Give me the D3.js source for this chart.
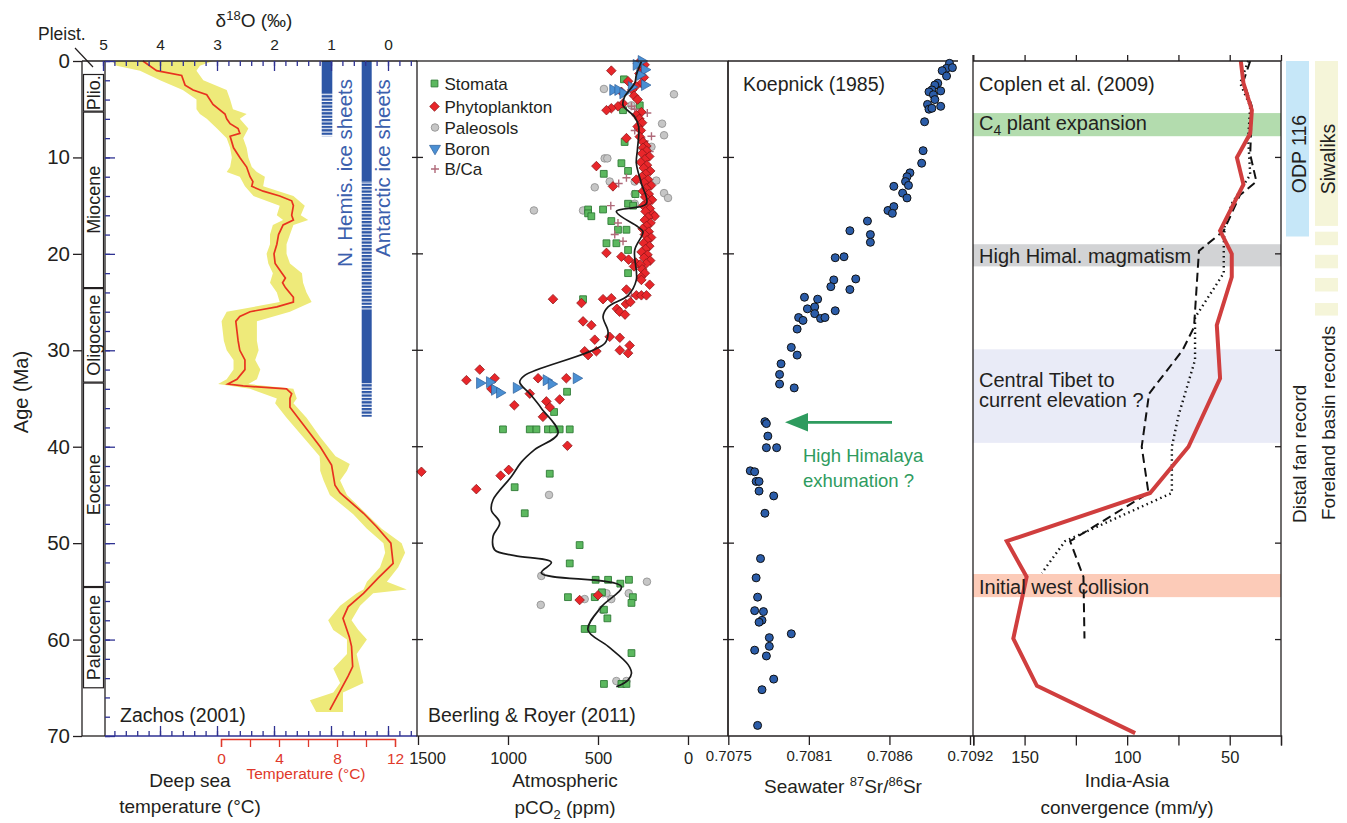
<!DOCTYPE html>
<html>
<head>
<meta charset="utf-8">
<script src="https://cdn.jsdelivr.net/npm/d3@7"></script>
<style>
  body { margin: 0; background: #fff; }
  svg { font-family: "Liberation Sans", Arial, Helvetica, sans-serif; }
</style>
</head>
<body>
<svg id="chart" width="1347" height="823"></svg>
<script>

// ---- age axis / tick labels
const ageTicks = [0, 10, 20, 30, 40, 50, 60, 70];
const d18Ticks = [5, 4, 3, 2, 1, 0];
const tempTicks = [0, 2, 4, 6, 8, 10, 12];
const tempLabels = [0, 4, 8, 12];
const co2Ticks = [1500, 1000, 500, 0];
const srTicks = [0.7075, 0.70805, 0.7086, 0.70915];
const srTickLabels = ["0.7075", "0.7081", "0.7086", "0.7092"];
const convTicks = [175, 150, 125, 100, 75, 50, 25];
const convLabels = [150, 100, 50];

// ---- Zachos (2001) deep sea d18O
const d18Age = [0, 1, 1.5, 2.5, 3, 3.5, 4.5, 5.5, 6, 6.5, 7, 7.5, 7.8, 9, 10, 11, 12, 12.5, 13, 13.5, 14, 14.5, 15, 16, 16.5, 17, 18, 19, 20, 21, 22, 22.5, 23, 23.5, 24.5, 25, 25.5, 26, 26.5, 27, 28, 29, 30, 31, 32, 33, 33.5, 33.7, 34, 34.5, 35, 35.9, 38.6, 40, 41.9, 44, 44.8, 46.9, 48.3, 50, 52.1, 53.6, 55.2, 56.6, 57.8, 59, 59.7, 60.7, 62.8, 63.8, 67.3];
const d18Value = [4.3, 4.06, 3.62, 3.56, 3.42, 3.18, 3.07, 2.86, 2.83, 2.77, 2.63, 2.6, 2.77, 2.71, 2.6, 2.48, 2.42, 2.37, 2.39, 2.19, 1.9, 1.69, 1.66, 1.69, 1.66, 1.84, 1.92, 1.95, 2.0, 1.98, 1.86, 1.8, 1.85, 1.8, 1.66, 1.66, 1.95, 2.42, 2.6, 2.67, 2.65, 2.63, 2.6, 2.51, 2.51, 2.65, 2.81, 2.54, 1.78, 1.69, 1.72, 1.72, 1.37, 1.19, 0.99, 0.93, 0.84, 0.43, 0.2, -0.05, -0.09, 0.17, 0.43, 0.7, 0.79, 0.72, 0.68, 0.64, 0.62, 0.7, 1.02];

const envAge = [0, 0.5, 1, 2, 3, 4, 5, 5.5, 6, 7, 8, 9, 10, 11, 11.5, 12, 13, 14, 15, 16, 16.5, 17, 18, 19, 20, 21, 22, 23, 24, 25, 26, 27, 29, 30, 31, 32, 33, 33.5, 34, 35, 35.5, 37, 39, 41, 41.8, 42.5, 43.5, 45, 47, 48.5, 50, 51, 52.5, 54, 54.8, 55.2, 56.5, 58, 59, 60, 61.5, 63, 64.5, 65.5, 66.3, 67.5];
const envHigh = [4.85, 4.76, 4.35, 4.0, 3.6, 3.36, 3.36, 3.3, 3.18, 3.0, 2.83, 2.77, 2.74, 2.77, 2.83, 2.6, 2.51, 2.36, 1.9, 1.95, 1.84, 2.02, 2.07, 2.07, 2.13, 2.1, 2.02, 2.07, 1.95, 1.9, 2.83, 2.92, 2.88, 2.83, 2.71, 2.71, 2.83, 2.98, 2.42, 1.95, 1.98, 1.78, 1.49, 1.2, 1.19, 1.19, 1.13, 1.02, 0.61, 0.37, 0.08, 0.05, 0.14, 0.37, 0.43, 0.55, 0.84, 1.05, 0.96, 0.72, 0.72, 0.96, 0.84, 0.96, 1.37, 1.26];
const envLow = [3.07, 3.3, 3.36, 3.24, 2.83, 2.77, 2.72, 2.48, 2.6, 2.45, 2.54, 2.48, 2.45, 2.39, 2.3, 2.16, 2.19, 1.66, 1.46, 1.53, 1.4, 1.66, 1.72, 1.78, 1.78, 1.72, 1.51, 1.49, 1.43, 1.34, 1.72, 2.3, 2.3, 2.27, 2.33, 2.24, 2.3, 2.45, 1.66, 1.6, 1.66, 1.43, 1.19, 0.92, 0.67, 0.72, 0.84, 0.72, 0.37, 0.11, -0.24, -0.3, -0.18, 0.02, -0.33, 0.26, 0.49, 0.64, 0.52, 0.37, 0.55, 0.49, 0.43, 0.79, 0.79, 0.79];

const epochNames = ["Plio.", "Miocene", "Oligocene", "Eocene", "Paleocene"];
const epochTop = [1.4, 5.3, 23.6, 33.4, 54.6];
const epochBase = [5.2, 23.5, 33.3, 54.5, 65];

const iceNH = [[0, 3.35, "full"], [3.35, 7.8, "partial"]];
const iceAA = [[0, 12.5, "full"], [12.5, 25.8, "partial"], [25.8, 33.4, "full"], [33.4, 36.9, "partial"]];

// ---- Beerling & Royer (2011) pCO2, [age Ma, ppm]
const stomata = [[1.9, 356], [4.6, 268], [5.1, 361], [8.4, 352], [10.6, 370], [11.4, 333], [11.7, 468], [13.8, 292], [14.8, 333], [15.0, 305], [15.4, 555], [15.8, 555], [16.1, 537], [15.4, 472], [16.6, 426], [17.5, 389], [17.5, 342], [18.9, 453], [18.9, 398], [19.6, 333], [22.0, 333], [24.7, 583], [34.3, 672], [36.4, 744], [38.2, 1028], [38.2, 879], [38.2, 842], [38.2, 778], [38.2, 750], [38.2, 713], [38.2, 657], [42.8, 768], [44.2, 963], [46.9, 907], [50.2, 602], [52.1, 657], [53.8, 513], [53.8, 444], [54.2, 376], [53.8, 328], [55.1, 478], [55.6, 667], [55.6, 518], [55.6, 306], [56.2, 314], [56.9, 467], [57.8, 448], [58.9, 574], [58.9, 531], [61.4, 314], [64.6, 467], [64.6, 370], [64.6, 342]];
const phyto = [[0.25, 278], [0.4, 241], [0.6, 262], [0.9, 250], [1.0, 426], [1.3, 270], [1.7, 245], [2.1, 333], [2.3, 259], [2.6, 290], [3.0, 310], [3.2, 370], [3.6, 300], [4.0, 280], [4.4, 361], [4.7, 389], [4.9, 426], [5.1, 453], [5.3, 259], [5.6, 287], [6.0, 270], [6.4, 255], [6.8, 280], [7.2, 262], [7.85, 268], [8.0, 342], [8.4, 250], [8.8, 232],
  [9.0, 250], [9.3, 230], [9.6, 255], [9.9, 215], [10.2, 240], [10.5, 262], [10.8, 228], [10.9, 509], [11.1, 246], [11.4, 210], [11.7, 235], [12.0, 256], [12.3, 287], [12.3, 222], [12.6, 244], [12.9, 205], [13.0, 417], [13.2, 232], [13.5, 250], [13.8, 218], [14.1, 238], [14.4, 200], [14.7, 226], [15.0, 248], [15.3, 212], [15.6, 236], [15.9, 195], [16.1, 185], [16.2, 222], [16.5, 240], [16.8, 208], [17.1, 230], [17.4, 252], [17.7, 218], [18.0, 240], [18.3, 205], [18.6, 228], [18.9, 246], [19.2, 215], [19.5, 236], [19.9, 453], [19.8, 258], [20.1, 225], [20.3, 370], [20.4, 244], [20.6, 330], [20.7, 210], [20.9, 290], [21.0, 232], [21.1, 265], [21.3, 300], [21.6, 255], [22.0, 240], [22.4, 262], [22.7, 259], [23.2, 213], [23.7, 342], [24.3, 287], [24.3, 259], [24.3, 231],
  [24.7, 750], [25.1, 592], [24.7, 472], [24.6, 426], [25.2, 345], [25.0, 320], [25.7, 395], [26.0, 380], [26.3, 350], [27.0, 583], [27.4, 537], [28.6, 435], [28.9, 518], [28.7, 379], [30.1, 574], [30.5, 555], [30.1, 509], [30.0, 379], [30.3, 333], [29.5, 324],
  [32.0, 1157], [33.1, 1231], [32.9, 1074], [34.0, 1092], [32.9, 833], [32.9, 676], [34.5, 879], [35.7, 965], [35.3, 787], [35.1, 713], [35.9, 768], [36.9, 806], [39.9, 670], [42.6, 1481], [43.0, 1041], [42.4, 996], [44.4, 1176], [55.4, 500], [55.9, 602]];
const paleosols = [[2.9, 467], [3.45, 78], [4.6, 314], [6.5, 144], [7.7, 133], [8.9, 203], [10.1, 463], [10.1, 448], [13.1, 518], [12.5, 435], [12.5, 296], [12.4, 176], [13.8, 296], [13.7, 133], [14.2, 111], [15.5, 856], [15.5, 583], [14.8, 296], [45.0, 772], [53.4, 815], [54.0, 228], [55.2, 472], [55.2, 453], [55.8, 574], [55.8, 426], [55.2, 329], [56.4, 818], [56.9, 476], [64.3, 398], [64.3, 342]];
const boron = [[0, 259], [0.4, 287], [0.9, 241], [1.45, 268], [2.5, 241], [2.7, 314], [3.0, 417], [3.0, 389], [3.35, 361], [33.4, 1157], [33.3, 1102], [34.1, 1074], [34.4, 1046], [33.9, 953], [33.1, 787], [33.5, 759], [32.9, 620]];
const bca = [[4.7, 314], [5.0, 296], [5.4, 226], [7.2, 296], [7.8, 203], [8.3, 241], [8.9, 226], [9.4, 213], [12.1, 342], [12.7, 385], [15.0, 429], [16.8, 389], [18.0, 407], [18.7, 361], [24.4, 314]];

const loessAge = [0.07, 1.45, 2.3, 3.7, 4.6, 5.8, 6.8, 9.2, 10.6, 12.7, 14.8, 15.6, 17.2, 17.7, 19.6, 22.7, 24.3, 25.5, 26.5, 28.1, 29.3, 32.6, 33.3, 34.5, 36.0, 38.6, 40.3, 41.6, 43.1, 45.5, 46.6, 47.9, 49.3, 50.7, 51.3, 52.0, 53.1, 54.5, 56.6, 59.0, 60.7, 62.6, 63.5, 64.2, 64.9];
const loessPpm = [259, 287, 296, 352, 361, 296, 274, 281, 287, 259, 231, 398, 278, 250, 296, 287, 333, 444, 472, 444, 463, 907, 935, 879, 815, 722, 852, 926, 981, 1083, 1092, 1046, 1083, 1074, 963, 759, 815, 370, 481, 556, 444, 333, 314, 333, 398];

// ---- Koepnick (1985) seawater 87Sr/86Sr, [age Ma, ratio]
const srData = [[0.24, 0.70901], [0.76, 0.70899], [0.69, 0.70903], [1.0, 0.70896], [1.56, 0.70899], [2.3, 0.70893], [2.5, 0.70891], [3.0, 0.70889], [3.2, 0.70887], [3.5, 0.7089], [3.1, 0.70895], [4.0, 0.70891], [4.5, 0.70886], [4.7, 0.70895], [5.0, 0.70887], [4.9, 0.70889], [6.3, 0.70884], [9.3, 0.70883], [10.6, 0.70882], [11.6, 0.70874], [12.0, 0.70872], [12.5, 0.70871], [12.9, 0.70873], [13.0, 0.70863], [13.7, 0.70869], [14.2, 0.70872], [15.5, 0.70859], [15.1, 0.70863], [15.8, 0.70862], [16.6, 0.70845], [17.6, 0.70833], [18.0, 0.70847], [18.8, 0.70847], [20.4, 0.70823], [20.3, 0.70829], [22.7, 0.70822], [23.4, 0.7082], [22.6, 0.70837], [23.7, 0.70833], [24.5, 0.70802], [24.7, 0.70811], [25.7, 0.70804], [25.5, 0.70809], [26.2, 0.70809], [26.7, 0.70813], [26.6, 0.70816], [25.9, 0.70823], [26.6, 0.70798], [26.9, 0.70801], [27.8, 0.70797], [29.7, 0.70793], [30.5, 0.70797], [31.4, 0.70786], [32.5, 0.70785], [33.5, 0.70785], [33.9, 0.70795],
  [37.4, 0.70775], [37.6, 0.70776], [38.9, 0.70777], [40.1, 0.70776], [40.1, 0.70783], [42.5, 0.70765], [42.6, 0.70768], [43.6, 0.70769], [43.6, 0.70771], [44.6, 0.70771], [45.1, 0.70781], [46.9, 0.70775], [51.6, 0.70772], [53.6, 0.70769], [55.6, 0.7077], [57.0, 0.70768], [57.1, 0.70774], [58.0, 0.70773], [58.2, 0.70771], [59.4, 0.70793], [59.8, 0.70778], [60.7, 0.70778], [61.1, 0.70768], [61.7, 0.70776], [64.1, 0.70781], [65.2, 0.70773], [68.9, 0.7077]];

// ---- India-Asia convergence (mm/y)
const convAge = [0, 2.3, 5.1, 7.5, 10, 12.8, 17.6, 20, 22.4, 27.4, 32.9, 40, 44.8, 49.8, 53.5, 59.9, 64.8, 69.7];
const convRate = [44.6, 43.3, 39.2, 40, 46.5, 43.3, 54.7, 49, 49, 56.3, 54.7, 70.1, 88.8, 158.7, 149, 155.5, 144, 96.1];
const dashAge = [0, 2.1, 4.7, 9.7, 12.5, 13.9, 17.6, 19.7, 27.6, 30, 34.5, 40, 44.8, 49.8, 53.5, 59.9];
const dashRate = [40, 43.3, 39.2, 40, 37, 45, 52.9, 65, 67.4, 73, 89.3, 92.9, 89.6, 127.8, 121.3, 120.8];
const dotAge = [0, 2.3, 4.7, 8, 11.8, 14.8, 17.2, 19, 22, 26.6, 31, 36.8, 40, 44.8, 49.8, 53.1];
const dotRate = [41, 44.9, 40, 41, 40, 49, 52.5, 52.9, 52.9, 66.9, 66.9, 75, 78.2, 78.2, 130.3, 141.6];

const bandLabels = ["C4 plant expansion", "High Himal. magmatism", "Central Tibet to|current elevation ?", "Initial west collision"];
const bandTop = [5.4, 19.0, 29.9, 53.2];
const bandBase = [7.8, 21.3, 39.6, 55.6];

const odpRange = [0, 18.2];
const siwaliks = [[0, 17.1], [17.7, 19.1], [20.1, 21.5], [22.5, 23.9], [25.1, 26.4]];


const ink = "#231f20";
const navy = "#2e3192";
const svg = d3.select("#chart");

const yAge = d3.scaleLinear().domain([0, 70]).range([61, 736]);
const xD18 = d3.scaleLinear().domain([5, -0.5]).range([103, 416.5]);
const xTemp = d3.scaleLinear().domain([0, 12]).range([221, 395]);
const xCO2 = d3.scaleLinear().domain([1500, 0]).range([418, 688]);
const xSr = d3.scaleLinear().domain([0.7075, 0.70915]).range([728.3, 970]);
const xConv = d3.scaleLinear().domain([175, 25]).range([973.3, 1281]);

const vis = {

    util : {

        line : function(g, x1, y1, x2, y2, color, w) {
            return g.append("line")
              .attr("x1", x1).attr("y1", y1).attr("x2", x2).attr("y2", y2)
              .attr("stroke", color || ink)
              .attr("stroke-width", w || 1.3);
        },

        text : function(g, x, y, str, size, opts) {
            opts = opts || {};
            return g.append("text")
              .attr("x", x).attr("y", y)
              .attr("font-size", size)
              .attr("fill", opts.fill || ink)
              .attr("text-anchor", opts.anchor || "start")
              .text(str);
        },

        vtext : function(g, x, y, str, size, opts) {
            opts = opts || {};
            return g.append("text")
              .attr("transform", `translate(${x},${y}) rotate(-90)`)
              .attr("font-size", size)
              .attr("fill", opts.fill || ink)
              .attr("text-anchor", opts.anchor || "middle")
              .text(str);
        },

        // small age ticks on a shared panel border
        borderTicks : function(x, left, right) {
            svg.append("g").selectAll("line")
              .data(ageTicks.slice(1, -1))
              .join("line")
              .attr("x1", x - left).attr("x2", x + right)
              .attr("y1", d => yAge(d)).attr("y2", d => yAge(d))
              .attr("stroke", ink).attr("stroke-width", 1.3);
        },

        styleAxis : function(g, color, size) {
            g.select(".domain").remove();
            g.selectAll(".tick line").attr("stroke", color).attr("stroke-width", 1.3);
            g.selectAll(".tick text").attr("fill", color).attr("font-size", size)
              .attr("font-family", "Liberation Sans, Arial, sans-serif");
        }

    },

    zachos : {

        draw : function() {

            const g = svg.append("g");
            const u = vis.util;

            const env = envAge.map((a, i) => ({ a : a, hi : envHigh[i], lo : envLow[i] }));
            g.append("path")
              .datum(env)
              .attr("d", d3.area().y(d => yAge(d.a)).x0(d => xD18(d.hi)).x1(d => xD18(d.lo)))
              .attr("fill", "#eeea7a");

            g.append("path")
              .datum(d18Age.map((a, i) => [a, d18Value[i]]))
              .attr("d", d3.line().x(d => xD18(d[1])).y(d => yAge(d[0])))
              .attr("fill", "none")
              .attr("stroke", "#e8321f")
              .attr("stroke-width", 1.7);

            // ice sheets
            const defs = svg.append("defs");
            defs.append("pattern")
              .attr("id", "icestripe")
              .attr("width", 20).attr("height", 3.4)
              .attr("patternUnits", "userSpaceOnUse")
              .append("rect").attr("width", 20).attr("height", 2.3).attr("fill", "#2d56a5");

            const bars = [[iceNH, 321.7, 332.3], [iceAA, 361.7, 371.7]];
            bars.forEach(b => {
                g.append("g").selectAll("rect")
                  .data(b[0])
                  .join("rect")
                  .attr("x", b[1]).attr("width", b[2] - b[1])
                  .attr("y", d => yAge(d[0])).attr("height", d => yAge(d[1]) - yAge(d[0]))
                  .attr("fill", d => d[2] === "full" ? "#2d56a5" : "url(#icestripe)");
            });
            u.vtext(g, 352, 173, "N. Hemis. ice sheets", 20.5, { fill : "#3c60ad" });
            u.vtext(g, 390, 168, "Antarctic ice sheets", 20.5, { fill : "#3c60ad" });

            // epoch column
            g.append("g").selectAll("rect")
              .data(epochNames)
              .join("rect")
              .attr("x", 83.5).attr("width", 20)
              .attr("y", (d, i) => yAge(epochTop[i]))
              .attr("height", (d, i) => yAge(epochBase[i]) - yAge(epochTop[i]))
              .attr("fill", "none").attr("stroke", ink).attr("stroke-width", 1.2);
            g.append("g").selectAll("text")
              .data(epochNames)
              .join("text")
              .attr("transform", (d, i) => `translate(100,${yAge((epochTop[i] + epochBase[i]) / 2)}) rotate(-90)`)
              .attr("text-anchor", "middle")
              .attr("font-size", 18)
              .attr("fill", ink)
              .text(d => d);

            u.line(g, 82, 61, 82, 736);
            u.line(g, 105, 61, 105, 736);
            u.line(g, 82, 61, 417, 61);
            u.line(g, 82, 736, 105, 736);
            u.line(g, 105, 736, 417, 736, navy);

            u.text(g, 38, 40, "Pleist.", 17.5);
            u.line(g, 75, 48, 93, 67, ink, 1.2);

            // left age axis
            const ax = g.append("g").attr("transform", "translate(82,0)")
              .call(d3.axisLeft(yAge).tickValues(ageTicks).tickSize(9).tickPadding(3));
            vis.util.styleAxis(ax, ink, 20.5);

            // blue age ticks
            const minorAge = d3.range(0, 71, 2);
            const am = g.append("g").attr("transform", "translate(105,0)")
              .call(d3.axisRight(yAge).tickValues(minorAge).tickSize(5).tickFormat(""));
            vis.util.styleAxis(am, navy, 10);
            const aM = g.append("g").attr("transform", "translate(105,0)")
              .call(d3.axisRight(yAge).tickValues(ageTicks).tickSize(10).tickFormat(""));
            vis.util.styleAxis(aM, navy, 10);

            // d18O top and bottom
            const minorD = d3.range(-4, 51, 2).map(v => v / 10);
            const tm = g.append("g").attr("transform", "translate(0,61)")
              .call(d3.axisTop(xD18).tickValues(minorD).tickSizeInner(-5).tickSizeOuter(0).tickFormat(""));
            vis.util.styleAxis(tm, navy, 10);
            const tM = g.append("g").attr("transform", "translate(0,61)")
              .call(d3.axisTop(xD18).tickValues(d18Ticks).tickSizeInner(-10).tickSizeOuter(0).tickPadding(11)
                .tickFormat(d => String(d)));
            vis.util.styleAxis(tM, navy, 15.5);
            tM.selectAll(".tick text").attr("fill", ink);

            const bm = g.append("g").attr("transform", "translate(0,736)")
              .call(d3.axisBottom(xD18).tickValues(minorD.filter(v => v < 4.9)).tickSizeInner(-5).tickSizeOuter(0).tickFormat(""));
            vis.util.styleAxis(bm, navy, 10);
            const bM = g.append("g").attr("transform", "translate(0,736)")
              .call(d3.axisBottom(xD18).tickValues([4, 3, 2, 1, 0]).tickSizeInner(-10).tickSizeOuter(0).tickFormat(""));
            vis.util.styleAxis(bM, navy, 10);

            const t1 = g.append("text").attr("x", 254).attr("y", 27).attr("text-anchor", "middle")
              .attr("font-size", 19).attr("fill", ink);
            t1.append("tspan").text("δ");
            t1.append("tspan").attr("dy", -7).attr("font-size", 13).text("18");
            t1.append("tspan").attr("dy", 7).text("O (‰)");

            // temperature
            const red = "#e0392b";
            const tx = g.append("g").attr("transform", "translate(0,739)")
              .call(d3.axisBottom(xTemp).tickValues(tempTicks).tickSize(8).tickPadding(6)
                .tickFormat(d => tempLabels.includes(d) ? String(d) : ""));
            tx.select(".domain").attr("stroke", red).attr("stroke-width", 1.3);
            tx.selectAll(".tick line").attr("stroke", red).attr("stroke-width", 1.3);
            tx.selectAll(".tick text").attr("fill", red).attr("font-size", 15.5)
              .attr("font-family", "Liberation Sans, Arial, sans-serif");
            u.text(g, 306, 779, "Temperature (°C)", 15.5, { fill : red, anchor : "middle" });

            u.text(g, 190, 787, "Deep sea", 19, { anchor : "middle" });
            u.text(g, 190, 813, "temperature (°C)", 19, { anchor : "middle" });
            u.text(g, 120, 722, "Zachos (2001)", 19.5);
            u.vtext(g, 28, 392, "Age (Ma)", 20);

        }

    },

    co2 : {

        draw : function() {

            const g = svg.append("g");
            const u = vis.util;
            const px = d => xCO2(d[1]);
            const py = d => yAge(d[0]);

            g.append("g").selectAll("circle")
              .data(paleosols).join("circle")
              .attr("cx", px).attr("cy", py).attr("r", 3.8)
              .attr("fill", "#c6c6c6").attr("stroke", "#8c8c8c").attr("stroke-width", 0.8);

            g.append("g").selectAll("path")
              .data(stomata).join("path")
              .attr("transform", d => `translate(${px(d)},${py(d)})`)
              .attr("d", d3.symbol(d3.symbolSquare, 46))
              .attr("fill", "#5cb85f").attr("stroke", "#2f7a35").attr("stroke-width", 0.9);

            g.append("g").selectAll("path")
              .data(bca).join("path")
              .attr("transform", d => `translate(${px(d)},${py(d)})`)
              .attr("d", "M-4,0H4M0,-4V4")
              .attr("stroke", "#b06a7a").attr("stroke-width", 1.4);

            g.append("g").selectAll("path")
              .data(phyto).join("path")
              .attr("transform", d => `translate(${px(d)},${py(d)}) rotate(45)`)
              .attr("d", d3.symbol(d3.symbolSquare, 46))
              .attr("fill", "#e8262a").attr("stroke", "#8a1518").attr("stroke-width", 0.7);

            g.append("g").selectAll("path")
              .data(boron).join("path")
              .attr("transform", d => `translate(${px(d)},${py(d)}) rotate(90)`)
              .attr("d", d3.symbol(d3.symbolTriangle, 52))
              .attr("fill", "#4a8fd3").attr("stroke", "#2c5f99").attr("stroke-width", 0.7);

            g.append("path")
              .datum(loessAge.map((a, i) => [a, loessPpm[i]]))
              .attr("d", d3.line().x(px).y(py).curve(d3.curveCatmullRom.alpha(0.5)))
              .attr("fill", "none").attr("stroke", "#1a1a1a").attr("stroke-width", 1.7);

            // legend
            const names = ["Stomata", "Phytoplankton", "Paleosols", "Boron", "B/Ca"];
            const ly = [83.5, 106.5, 127.5, 148.5, 169];
            const lg = g.append("g");
            lg.append("path").attr("transform", `translate(434.5,${ly[0]})`).attr("d", d3.symbol(d3.symbolSquare, 46))
              .attr("fill", "#5cb85f").attr("stroke", "#2f7a35").attr("stroke-width", 0.9);
            lg.append("path").attr("transform", `translate(434.5,${ly[1]}) rotate(45)`).attr("d", d3.symbol(d3.symbolSquare, 46))
              .attr("fill", "#e8262a").attr("stroke", "#8a1518").attr("stroke-width", 0.7);
            lg.append("circle").attr("cx", 435).attr("cy", ly[2]).attr("r", 3.8)
              .attr("fill", "#c6c6c6").attr("stroke", "#8c8c8c").attr("stroke-width", 0.8);
            lg.append("path").attr("transform", `translate(435,${ly[3]}) rotate(180)`).attr("d", d3.symbol(d3.symbolTriangle, 52))
              .attr("fill", "#4a8fd3").attr("stroke", "#2c5f99").attr("stroke-width", 0.7);
            lg.append("path").attr("transform", `translate(435,${ly[4]})`).attr("d", "M-4,0H4M0,-4V4")
              .attr("stroke", "#b06a7a").attr("stroke-width", 1.4);
            names.forEach((n, i) => u.text(lg, 444.5, ly[i] + 6, n, 17));

            g.append("rect").attr("x", 417).attr("y", 61).attr("width", 311).attr("height", 675)
              .attr("fill", "none").attr("stroke", ink).attr("stroke-width", 1.3);

            const ax = g.append("g").attr("transform", "translate(0,736)")
              .call(d3.axisBottom(xCO2).tickValues(co2Ticks).tickSize(9).tickPadding(7)
                .tickFormat(d => String(d)));
            vis.util.styleAxis(ax, ink, 16.5);
            ax.selectAll(".tick text").filter(d => d === 1500).attr("x", 9);

            u.text(g, 428, 722, "Beerling & Royer (2011)", 19.5);
            u.text(g, 565, 787, "Atmospheric", 19, { anchor : "middle" });
            const t = g.append("text").attr("x", 565).attr("y", 814).attr("text-anchor", "middle")
              .attr("font-size", 19).attr("fill", ink);
            t.append("tspan").text("pCO");
            t.append("tspan").attr("dy", 5).attr("font-size", 13).text("2");
            t.append("tspan").attr("dy", -5).text(" (ppm)");

        }

    },

    sr : {

        draw : function() {

            const g = svg.append("g");
            const u = vis.util;

            u.line(g, 728, 61, 958, 61);
            u.line(g, 728, 61, 728, 736);
            u.line(g, 728, 736, 973, 736);

            g.append("g").selectAll("circle")
              .data(srData).join("circle")
              .attr("cx", d => xSr(d[1])).attr("cy", d => yAge(d[0])).attr("r", 4)
              .attr("fill", "#2b5ca8").attr("stroke", "#101010").attr("stroke-width", 1);

            const ax = g.append("g").attr("transform", "translate(0,736)")
              .call(d3.axisBottom(xSr).tickValues(srTicks).tickSize(9).tickPadding(5)
                .tickFormat((d, i) => srTickLabels[i]));
            vis.util.styleAxis(ax, ink, 15);

            const green = "#2e9b5e";
            u.line(g, 892, 422.3, 802, 422.3, green, 2.7);
            g.append("path")
              .attr("d", d3.line()([[785, 422.3], [808, 413], [808, 431.6]]))
              .attr("fill", green);
            u.text(g, 803, 462, "High Himalaya", 18.5, { fill : green });
            u.text(g, 803, 487, "exhumation ?", 18.5, { fill : green });

            u.text(g, 743, 91, "Koepnick (1985)", 19.5);

            const t = g.append("text").attr("x", 843).attr("y", 793).attr("text-anchor", "middle")
              .attr("font-size", 19).attr("fill", ink);
            t.append("tspan").text("Seawater ");
            t.append("tspan").attr("dy", -7).attr("font-size", 13).text("87");
            t.append("tspan").attr("dy", 7).text("Sr/");
            t.append("tspan").attr("dy", -7).attr("font-size", 13).text("86");
            t.append("tspan").attr("dy", 7).text("Sr");

        }

    },

    convergence : {

        draw : function() {

            const g = svg.append("g");
            const u = vis.util;
            const bandColors = ["#b3dcae", "#d2d3d5", "#e9ebf7", "#fccbb8"];

            g.append("g").selectAll("rect")
              .data(bandLabels).join("rect")
              .attr("x", 973).attr("width", 308)
              .attr("y", (d, i) => yAge(bandTop[i]))
              .attr("height", (d, i) => yAge(bandBase[i]) - yAge(bandTop[i]))
              .attr("fill", (d, i) => bandColors[i]);

            const line = (ages, rates) => d3.line()(ages.map((a, i) => [xConv(rates[i]), yAge(a)]));
            g.append("path").attr("d", line(dotAge, dotRate))
              .attr("fill", "none").attr("stroke", "#111").attr("stroke-width", 2.4)
              .attr("stroke-dasharray", "1.5,3.5");
            g.append("path").attr("d", line(dashAge, dashRate))
              .attr("fill", "none").attr("stroke", "#111").attr("stroke-width", 2)
              .attr("stroke-dasharray", "9,5");
            g.append("path").attr("d", line(convAge, convRate))
              .attr("fill", "none").attr("stroke", "#d03e3e").attr("stroke-width", 4)
              .attr("stroke-linejoin", "miter");

            u.text(g, 979, 91, "Coplen et al. (2009)", 20);
            const c4 = g.append("text").attr("x", 979).attr("y", 130).attr("font-size", 20).attr("fill", ink);
            c4.append("tspan").text("C");
            c4.append("tspan").attr("dy", 5).attr("font-size", 14).text("4");
            c4.append("tspan").attr("dy", -5).text(" plant expansion");
            u.text(g, 979, 263, bandLabels[1], 20);
            const ct = bandLabels[2].split("|");
            u.text(g, 979, 387, ct[0], 20);
            u.text(g, 979, 407, ct[1], 20);
            u.text(g, 979, 594, bandLabels[3], 20);

            // frame
            u.line(g, 973, 55, 973, 736);
            u.line(g, 973, 61, 1281, 61);
            u.line(g, 1281, 61, 1281, 735.5);
            g.append("g").selectAll("line")
              .data(ageTicks.slice(1, -1)).join("line")
              .attr("x1", 1275).attr("x2", 1281)
              .attr("y1", d => yAge(d)).attr("y2", d => yAge(d))
              .attr("stroke", ink).attr("stroke-width", 1.3);

            const top = g.append("g").attr("transform", "translate(0,61)")
              .call(d3.axisTop(xConv).tickValues(convTicks).tickSize(6).tickFormat(""));
            vis.util.styleAxis(top, ink, 10);
            const ax = g.append("g").attr("transform", "translate(0,735.5)")
              .call(d3.axisBottom(xConv).tickValues(convTicks).tickSize(10).tickPadding(6)
                .tickFormat(d => convLabels.includes(d) ? String(d) : ""));
            ax.select(".domain").attr("stroke", ink).attr("stroke-width", 1.3);
            ax.selectAll(".tick line").attr("stroke", ink).attr("stroke-width", 1.3);
            ax.selectAll(".tick text").attr("fill", ink).attr("font-size", 16.5)
              .attr("font-family", "Liberation Sans, Arial, sans-serif");

            u.text(g, 1127, 787, "India-Asia", 19, { anchor : "middle" });
            u.text(g, 1127, 814, "convergence (mm/y)", 19, { anchor : "middle" });

            // records
            g.append("rect").attr("x", 1286).attr("width", 23)
              .attr("y", yAge(odpRange[0])).attr("height", yAge(odpRange[1]) - yAge(odpRange[0]))
              .attr("fill", "#c6e7f8");
            g.append("g").selectAll("rect")
              .data(siwaliks).join("rect")
              .attr("x", 1315).attr("width", 23)
              .attr("y", d => yAge(d[0])).attr("height", d => yAge(d[1]) - yAge(d[0]))
              .attr("fill", "#f5f5d9");
            u.vtext(g, 1306, 154, "ODP 116", 19.5);
            u.vtext(g, 1335, 159, "Siwaliks", 19.5);
            u.vtext(g, 1306, 523, "Distal fan record", 19, { anchor : "start" });
            u.vtext(g, 1335, 520, "Foreland basin records", 19, { anchor : "start" });

        }

    },

    ctrl : {

        init : function() {
            svg.append("rect").attr("width", 1347).attr("height", 823).attr("fill", "#fff");
            vis.zachos.draw();
            vis.co2.draw();
            vis.sr.draw();
            vis.convergence.draw();
            vis.util.borderTicks(417, 5, 6);
            vis.util.borderTicks(728, 5, 6);
        }

    }

};

vis.ctrl.init();
</script>
</body>
</html>
